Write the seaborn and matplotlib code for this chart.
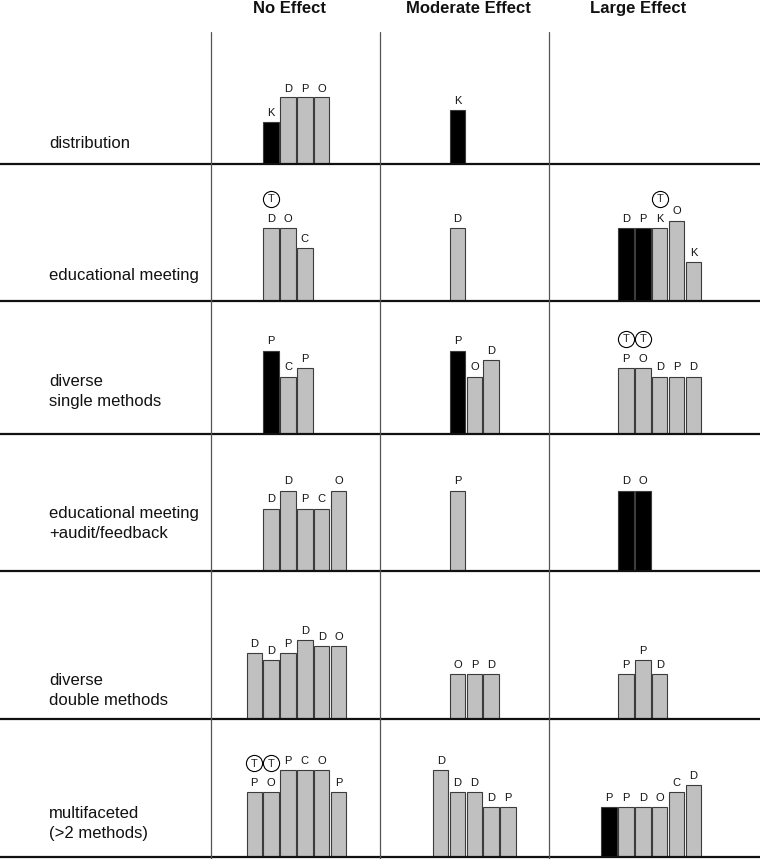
import pandas as pd
import seaborn as sns
import matplotlib.pyplot as plt
from matplotlib.lines import Line2D

# titles
effects = ["No Effect", "Moderate Effect", "Large Effect"]
row_labels = ["distribution", "educational meeting", "diverse\nsingle methods",
              "educational meeting\n+audit/feedback", "diverse\ndouble methods",
              "multifaceted\n(>2 methods)"]

# letter on top of each bar, one string per cell (row x effect)
bar_letters = [
    ["KDPO", "K", ""],
    ["DOC", "D", "DPKOK"],
    ["PCP", "POD", "PODPD"],
    ["DDPCO", "P", "DO"],
    ["DDPDDO", "OPD", "PPD"],
    ["POPCOP", "DDDDP", "PPDOCD"],
]
bar_heights = [
    [[41, 66, 66, 66], [53], []],
    [[73, 73, 53], [73], [73, 73, 73, 80, 39]],
    [[83, 57, 66], [83, 57, 74], [66, 66, 57, 57, 57]],
    [[62, 80, 62, 62, 80], [80], [80, 80]],
    [[66, 59, 66, 79, 73, 73], [45, 45, 45], [45, 59, 45]],
    [[65, 65, 87, 87, 87, 65], [87, 65, 65, 50, 50], [50, 50, 50, 50, 65, 72]],
]
# 1 = black bar, 0 = grey bar
bar_black = [
    [[1, 0, 0, 0], [1], []],
    [[0, 0, 0], [0], [1, 1, 0, 0, 0]],
    [[1, 0, 0], [1, 0, 0], [0, 0, 0, 0, 0]],
    [[0, 0, 0, 0, 0], [0], [1, 1]],
    [[0, 0, 0, 0, 0, 0], [0, 0, 0], [0, 0, 0]],
    [[0, 0, 0, 0, 0, 0], [0, 0, 0, 0, 0], [1, 0, 0, 0, 0, 0]],
]
# index of the bars marked with a circled T
bar_trial = [
    [[], [], []],
    [[0], [], [2]],
    [[], [], [0, 1]],
    [[], [], []],
    [[], [], []],
    [[0, 1], [], []],
]
# slot of the first bar in every cell
first_slot = [
    [1, 1, 1],
    [1, 1, 1],
    [1, 1, 1],
    [1, 1, 1],
    [0, 1, 1],
    [0, 0, 0],
]

# layout (pixels)
W, H = 760, 859
row_lines = [163.5, 300.5, 433.5, 570.5, 719, 857]
row_tops = [32] + row_lines[:-1]
label_baselines = [148, 280, 386, 518, 685, 818]
col_edges = [211, 380, 548.5, 760]
slot0 = [254.3, 440.7, 609.1]
pitch = 16.85
header_x = [289.6, 468, 638.5]

sns.set_style("white")
plt.rcParams['font.family'] = ['Liberation Sans', 'DejaVu Sans']

fig = plt.figure(figsize=(W / 100, H / 100), dpi=100)

for r in range(len(row_labels)):
    top, bot = row_tops[r], row_lines[r]
    for c in range(3):
        l, rr = col_edges[c], col_edges[c + 1]
        ax = fig.add_axes([l / W, 1 - bot / H, (rr - l) / W, (bot - top) / H])
        letters = bar_letters[r][c]
        if letters:
            slots = [first_slot[r][c] + i for i in range(len(letters))]
            df = pd.DataFrame({
                "slot": slots,
                "height": bar_heights[r][c],
                "fill": ["black" if b else "grey" for b in bar_black[r][c]],
            })
            sns.barplot(data=df, x="slot", y="height", hue="fill",
                        order=list(range(7)), hue_order=["black", "grey"],
                        palette={"black": "#000000", "grey": "#c0c0c0"},
                        dodge=False, width=0.92, edgecolor="#3c3c3c",
                        linewidth=0.8, errorbar=None, legend=False, ax=ax)
            for s, h, t in zip(slots, df["height"], letters):
                ax.text(s, h + 4, t, ha="center", va="bottom", fontsize=8,
                        color="#111111", clip_on=False)
            # circled T above the marked bars
            for i in bar_trial[r][c]:
                s, h = slots[i], df["height"][i]
                ax.scatter([s], [h + 29], s=135, facecolor="white",
                           edgecolor="black", linewidth=0.8, zorder=3,
                           clip_on=False)
                ax.text(s, h + 29, "T", ha="center", va="center_baseline",
                        fontsize=8, zorder=4, clip_on=False)
        ax.set_xlim((l - slot0[c]) / pitch, (rr - slot0[c]) / pitch)
        ax.set_ylim(0, bot - top)
        ax.set_axis_off()

    for i, line in enumerate(row_labels[r].split("\n")):
        fig.text(49 / W, 1 - (label_baselines[r] + 20 * i) / H, line,
                 ha="left", va="baseline", fontsize=12, color="#111111")

for x, name in zip(header_x, effects):
    fig.text(x / W, 1 - 13 / H, name, ha="center", va="baseline",
             fontsize=12, fontweight="bold", color="#111111")

# grid lines
for y in row_lines:
    fig.add_artist(Line2D([0, 1], [1 - y / H, 1 - y / H], color="#111111",
                          linewidth=1.6))
for x in col_edges[:-1]:
    fig.add_artist(Line2D([x / W, x / W], [0, 1 - 32 / H], color="#555555",
                          linewidth=0.9))

fig.savefig("out.png", dpi=100)
